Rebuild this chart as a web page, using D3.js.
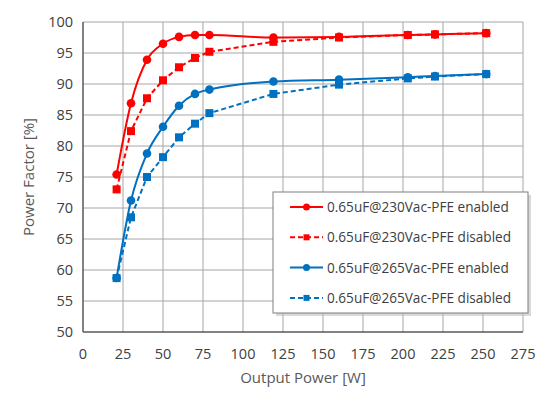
<!DOCTYPE html>
<meta charset="utf-8">
<script src="https://cdn.jsdelivr.net/npm/d3@7"></script>
<style>
	body { margin: 0; background: #fff; }
	svg text { font-family: "Open Sans", "Liberation Sans", sans-serif; }
</style>
<div id="vis"></div>
<script>
	// data
	const power = [21, 30, 40, 50, 60, 70, 79, 119, 160, 203, 220, 252];
	const pf230on = [75.4, 86.9, 93.9, 96.5, 97.6, 97.9, 97.9, 97.5, 97.6, 97.9, 98.0, 98.2];
	const pf230off = [73.0, 82.4, 87.7, 90.6, 92.7, 94.2, 95.2, 96.8, 97.5, 97.9, 98.0, 98.2];
	const pf265on = [58.7, 71.2, 78.8, 83.1, 86.5, 88.4, 89.1, 90.4, 90.7, 91.1, 91.3, 91.6];
	const pf265off = [58.7, 68.5, 75.0, 78.2, 81.4, 83.6, 85.3, 88.4, 89.9, 90.9, 91.2, 91.6];
	const seriesNames = ["0.65uF@230Vac-PFE enabled", "0.65uF@230Vac-PFE disabled",
		"0.65uF@265Vac-PFE enabled", "0.65uF@265Vac-PFE disabled"];
	const xTicks = d3.range(0, 276, 25);
	const yTicks = d3.range(50, 101, 5);

	const width = 554, height = 397;
	const margin = { left: 83, right: 31, top: 22, bottom: 65 };

	const series = [
		{ name: seriesNames[0], vals: pf230on, color: "#ff0000", dash: null, shape: "circle" },
		{ name: seriesNames[1], vals: pf230off, color: "#ff0000", dash: "5,3", shape: "square" },
		{ name: seriesNames[2], vals: pf265on, color: "#0070c0", dash: null, shape: "circle" },
		{ name: seriesNames[3], vals: pf265off, color: "#0070c0", dash: "5,3", shape: "square" }
	];

	const svg = d3.select("#vis").append("svg")
		.attr("width", width)
		.attr("height", height);

	const x = d3.scaleLinear().domain([0, 275]).range([margin.left, width - margin.right]);
	const y = d3.scaleLinear().domain([50, 100]).range([height - margin.bottom, margin.top]);

	// grid
	const grid = svg.append("g");
	grid.selectAll("line.v").data(xTicks.slice(1)).enter().append("line")
		.attr("x1", d => x(d)).attr("x2", d => x(d))
		.attr("y1", y(50)).attr("y2", y(100))
		.attr("stroke", "#a6a6a6").attr("stroke-width", 1);
	grid.selectAll("line.h").data(yTicks.slice(1)).enter().append("line")
		.attr("y1", d => y(d)).attr("y2", d => y(d))
		.attr("x1", x(0)).attr("x2", x(275))
		.attr("stroke", "#a6a6a6").attr("stroke-width", 1);

	// axes lines
	svg.append("line").attr("x1", x(0)).attr("x2", x(0)).attr("y1", y(50)).attr("y2", y(100))
		.attr("stroke", "#595959").attr("stroke-width", 1.5);
	svg.append("line").attr("x1", x(0)).attr("x2", x(275)).attr("y1", y(50)).attr("y2", y(50))
		.attr("stroke", "#595959").attr("stroke-width", 1.5);

	// tick labels
	svg.append("g").selectAll("text").data(xTicks).enter().append("text")
		.attr("x", d => x(d)).attr("y", y(50) + 27)
		.attr("text-anchor", "middle")
		.attr("font-size", 14.5).attr("fill", "#404040")
		.text(d => d);
	svg.append("g").selectAll("text").data(yTicks).enter().append("text")
		.attr("x", x(0) - 10).attr("y", d => y(d) + 5)
		.attr("text-anchor", "end")
		.attr("font-size", 14.5).attr("fill", "#404040")
		.text(d => d);

	// axis titles
	svg.append("text")
		.attr("x", x(137.5)).attr("y", 383)
		.attr("text-anchor", "middle").attr("font-size", 15).attr("fill", "#595959")
		.text("Output Power [W]");
	svg.append("text")
		.attr("transform", "translate(34," + y(75) + ") rotate(-90)")
		.attr("text-anchor", "middle").attr("font-size", 15).attr("fill", "#595959")
		.text("Power Factor [%]");

	function drawMarker(g, shape, cx, cy, color) {
		if (shape == "circle") {
			g.append("circle").attr("cx", cx).attr("cy", cy).attr("r", 4.3).attr("fill", color);
		} else {
			g.append("rect").attr("x", cx - 4).attr("y", cy - 4)
				.attr("width", 8).attr("height", 8).attr("fill", color);
		}
	}

	// series
	series.forEach(function (s) {
		const line = d3.line()
			.x((d, i) => x(power[i]))
			.y(d => y(d))
			.curve(s.dash ? d3.curveLinear : d3.curveMonotoneX);
		const g = svg.append("g");
		g.append("path").datum(s.vals)
			.attr("d", line)
			.attr("fill", "none")
			.attr("stroke", s.color)
			.attr("stroke-width", 2)
			.attr("stroke-dasharray", s.dash);
		s.vals.forEach(function (v, i) { drawMarker(g, s.shape, x(power[i]), y(v), s.color) });
	});

	// legend
	const lg = svg.append("g").attr("transform", "translate(273,192)");
	lg.append("rect").attr("x", 3).attr("y", 3).attr("width", 255).attr("height", 121)
		.attr("fill", "#bfbfbf").attr("opacity", 0.6);
	lg.append("rect").attr("width", 255).attr("height", 121)
		.attr("fill", "#fff").attr("stroke", "#7f7f7f").attr("stroke-width", 1);
	series.forEach(function (s, i) {
		const yy = 15 + i * 30.3;
		lg.append("line").attr("x1", 17).attr("x2", 50).attr("y1", yy).attr("y2", yy)
			.attr("stroke", s.color).attr("stroke-width", 2).attr("stroke-dasharray", s.dash);
		if (s.shape == "circle") {
			lg.append("circle").attr("cx", 33.5).attr("cy", yy).attr("r", 3.5).attr("fill", s.color);
		} else {
			lg.append("rect").attr("x", 30.5).attr("y", yy - 3).attr("width", 6).attr("height", 6).attr("fill", s.color);
		}
		lg.append("text").attr("x", 54).attr("y", yy + 5)
			.attr("font-size", 13.6).attr("fill", "#404040")
			.text(s.name);
	});
</script>
